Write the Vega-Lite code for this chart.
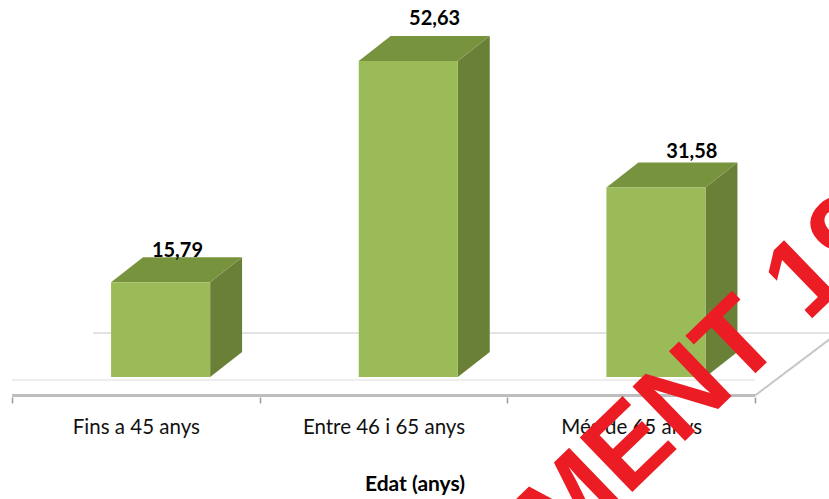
{
  "$schema": "https://vega.github.io/schema/vega-lite/v6.json",
  "width": 829,
  "height": 397,
  "autosize": "none",
  "padding": {"top": 0, "left": 0, "right": 0, "bottom": 102},
  "background": "white",
  "config": {"view": {"stroke": null}, "axis": {"grid": false}},
  "data": {"values": [
    {"cat": "Fins a 45 anys", "v": 15.79},
    {"cat": "Entre 46 i 65 anys", "v": 52.63},
    {"cat": "Més de 65 anys", "v": 31.58}
  ]},
  "transform": [
    {"window": [{"op": "row_number", "as": "n"}]},
    {"calculate": "datum.n - 1", "as": "i"}
  ],
  "resolve": {"scale": {"x": "independent"}},
  "layer": [
    {
      "mark": {"type": "rule", "opacity": 0},
      "encoding": {
        "x": {
          "field": "cat", "type": "nominal", "sort": null,
          "scale": {"type": "band", "paddingInner": 0, "paddingOuter": 0.1736, "align": 0.1395},
          "axis": {
            "title": "Edat (anys)", "labelAngle": 0, "domain": false,
            "ticks": true, "tickBand": "extent", "tickColor": "#9A9A9A", "tickWidth": 1.5, "tickSize": 6,
            "labelFont": "Lato", "labelFontSize": 20.5, "labelColor": "#111111", "labelPadding": 14,
            "titleFont": "Lato", "titleFontSize": 21, "titleFontWeight": "bold", "titleColor": "#000000",
            "titleY": 93, "titleBaseline": "alphabetic"
          }
        }
      }
    },
    {
      "layer": [
        {
          "data": {"values": [{}]},
          "mark": {"type": "rule", "color": "#DADADA", "strokeWidth": 1.5},
          "encoding": {
            "x": {"datum": 0.327, "type": "quantitative", "scale": {"domain": [-0.04845, 3.2987], "nice": false, "zero": false}, "axis": null},
            "x2": {"datum": 3.4},
            "y": {"datum": 7.33, "type": "quantitative", "scale": {"domain": [-3.33, 62.79], "nice": false, "zero": false}, "axis": null},
            "y2": {"datum": 7.33}
          }
        },
        {
          "data": {"values": [{}]},
          "mark": {"type": "rule", "color": "#E8E8E8", "strokeWidth": 1.5},
          "encoding": {
            "x": {"datum": 0, "type": "quantitative", "scale": {"domain": [-0.04845, 3.2987], "nice": false, "zero": false}, "axis": null},
            "x2": {"datum": 3},
            "y": {"datum": -0.5, "type": "quantitative", "scale": {"domain": [-3.33, 62.79], "nice": false, "zero": false}, "axis": null},
            "y2": {"datum": -0.5}
          }
        },
        {
          "data": {"values": [{}]},
          "mark": {"type": "rule", "color": "#C6C6C6", "strokeWidth": 2},
          "encoding": {
            "x": {"datum": 3, "type": "quantitative", "scale": {"domain": [-0.04845, 3.2987], "nice": false, "zero": false}, "axis": null},
            "x2": {"datum": 3.335},
            "y": {"datum": -3.08, "type": "quantitative", "scale": {"domain": [-3.33, 62.79], "nice": false, "zero": false}, "axis": null},
            "y2": {"datum": 7.33}
          }
        },
        {
          "data": {"values": [{}]},
          "mark": {"type": "rule", "color": "#BDBDBD", "strokeWidth": 3},
          "encoding": {
            "x": {"datum": 0, "type": "quantitative", "scale": {"domain": [-0.04845, 3.2987], "nice": false, "zero": false}, "axis": null},
            "x2": {"datum": 3},
            "y": {"datum": -3.08, "type": "quantitative", "scale": {"domain": [-3.33, 62.79], "nice": false, "zero": false}, "axis": null},
            "y2": {"datum": -3.08}
          }
        },
        {
          "transform": [
            {"calculate": "0", "as": "p0"},
            {"calculate": "1", "as": "p1"},
            {"fold": ["p0", "p1"], "as": ["k", "t"]},
            {"calculate": "datum.i + 0.8 + datum.t * 0.129", "as": "xx"},
            {"calculate": "datum.t * 4.16", "as": "ylo"},
            {"calculate": "datum.v + datum.t * 4.16", "as": "yhi"}
          ],
          "mark": {"type": "area", "color": "#6A8037", "opacity": 1},
          "encoding": {
            "x": {"field": "xx", "type": "quantitative", "scale": {"domain": [-0.04845, 3.2987], "nice": false, "zero": false}, "axis": null},
            "y": {"field": "yhi", "type": "quantitative", "scale": {"domain": [-3.33, 62.79], "nice": false, "zero": false}, "axis": null},
            "y2": {"field": "ylo"},
            "detail": {"field": "cat"}
          }
        },
        {
          "transform": [
            {"calculate": "0", "as": "p0"},
            {"calculate": "1", "as": "p1"},
            {"calculate": "2", "as": "p2"},
            {"calculate": "3", "as": "p3"},
            {"fold": ["p0", "p1", "p2", "p3"], "as": ["k", "t"]},
            {"calculate": "datum.t == 0 ? 0 : datum.t == 1 ? 0.129 : datum.t == 2 ? 0.4 : 0.529", "as": "s"},
            {"calculate": "datum.i + 0.4 + datum.s", "as": "xx"},
            {"calculate": "datum.v + min(datum.s, 0.129) / 0.129 * 4.16", "as": "yhi"},
            {"calculate": "datum.v + max(0, datum.s - 0.4) / 0.129 * 4.16", "as": "ylo"}
          ],
          "mark": {"type": "area", "color": "#78933E", "opacity": 1},
          "encoding": {
            "x": {"field": "xx", "type": "quantitative", "scale": {"domain": [-0.04845, 3.2987], "nice": false, "zero": false}, "axis": null},
            "y": {"field": "yhi", "type": "quantitative", "scale": {"domain": [-3.33, 62.79], "nice": false, "zero": false}, "axis": null},
            "y2": {"field": "ylo"},
            "detail": {"field": "cat"}
          }
        },
        {
          "transform": [
            {"calculate": "datum.i + 0.4", "as": "x0"},
            {"calculate": "datum.i + 0.8", "as": "x1"}
          ],
          "mark": {"type": "bar", "color": "#9BBB59", "opacity": 1},
          "encoding": {
            "x": {"field": "x0", "type": "quantitative", "scale": {"domain": [-0.04845, 3.2987], "nice": false, "zero": false}, "axis": null},
            "x2": {"field": "x1"},
            "y": {"field": "v", "type": "quantitative", "scale": {"domain": [-3.33, 62.79], "nice": false, "zero": false}, "axis": null},
            "y2": {"datum": 0}
          }
        },
        {
          "transform": [
            {"calculate": "datum.i * 1.0385 + 0.668", "as": "xl"},
            {"calculate": "datum.v * 1.0497 + 4.38", "as": "yl"},
            {"calculate": "replace(format(datum.v, '.2f'), '.', ',')", "as": "lbl"}
          ],
          "mark": {"type": "text", "font": "Lato", "fontSize": 20, "fontWeight": "bold", "color": "#000000", "baseline": "middle", "align": "center"},
          "encoding": {
            "x": {"field": "xl", "type": "quantitative", "scale": {"domain": [-0.04845, 3.2987], "nice": false, "zero": false}, "axis": null},
            "y": {"field": "yl", "type": "quantitative", "scale": {"domain": [-3.33, 62.79], "nice": false, "zero": false}, "axis": null},
            "text": {"field": "lbl"}
          }
        },
        {
          "data": {"values": [{}]},
          "mark": {"type": "text", "text": "MENT 19", "font": "Liberation Sans", "fontWeight": "bold", "fontSize": 110, "color": "#EC1C24", "angle": -44, "align": "left", "baseline": "alphabetic"},
          "encoding": {
            "x": {"datum": 2.217, "type": "quantitative", "scale": {"domain": [-0.04845, 3.2987], "nice": false, "zero": false}, "axis": null},
            "y": {"datum": -30.6, "type": "quantitative", "scale": {"domain": [-3.33, 62.79], "nice": false, "zero": false}, "axis": null}
          }
        }
      ]
    }
  ]
}
